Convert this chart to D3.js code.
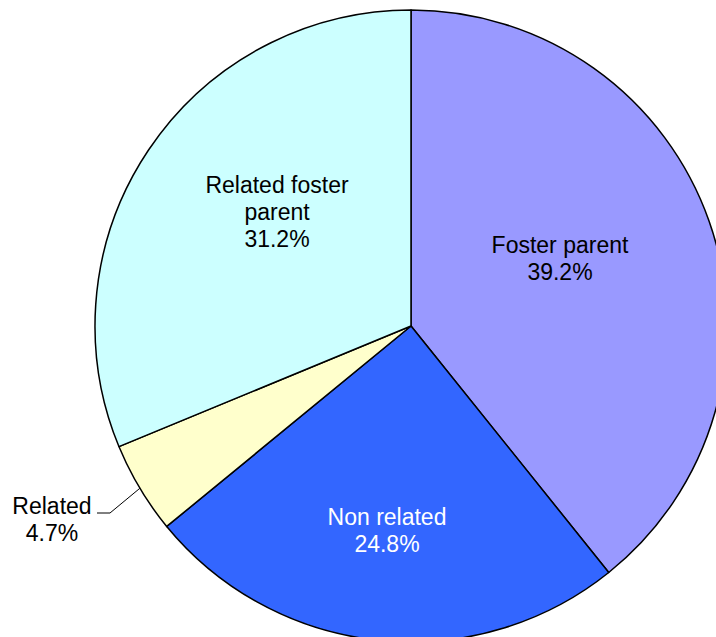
<!DOCTYPE html>
<html>
<head>
<meta charset="utf-8">
<script src="https://cdn.jsdelivr.net/npm/d3@7"></script>
<style>
  body { margin: 0; background: #fff; }
  svg { display: block; }
</style>
</head>
<body>
<svg id="chart"></svg>
<script>
// data
var categories = ["Foster parent", "Non related", "Related", "Related foster parent"];
var values = [39.2, 24.8, 4.7, 31.2];
var colors = ["#9999ff", "#3366ff", "#ffffcc", "#ccffff"];
var textColors = ["#000", "#fff", "#000", "#000"];
var labelLines = [["Foster parent"], ["Non related"], ["Related"], ["Related foster", "parent"]];

var width = 716, height = 637;
var cx = 411, cy = 326, radius = 316;

var svg = d3.select("#chart")
    .attr("width", width)
    .attr("height", height);

var slices = categories.map(function(c, i) {
    return { name: c, value: values[i], color: colors[i], text: textColors[i], lines: labelLines[i] };
});

var pie = d3.pie()
    .sort(null)
    .value(function(d) { return d.value; });

var arc = d3.arc().innerRadius(0).outerRadius(radius);

var g = svg.append("g").attr("transform", "translate(" + cx + "," + cy + ")");

var arcs = pie(slices);

g.selectAll("path")
    .data(arcs)
    .enter().append("path")
    .attr("d", arc)
    .attr("fill", function(d) { return d.data.color; })
    .attr("stroke", "#000")
    .attr("stroke-width", 1.5)
    .attr("stroke-linejoin", "round");

// label anchor points (relative to centre), placed like the original
var labelAt = [[149, -73], [-24, 199], [-359, 188], [-134, -133]];
var lineH = 27;

arcs.forEach(function(d, i) {
    var lines = d.data.lines.concat([d.data.value.toFixed(1) + "%"]);
    var t = g.append("text")
        .attr("x", labelAt[i][0])
        .attr("y", labelAt[i][1])
        .attr("text-anchor", "middle")
        .attr("fill", d.data.text)
        .style("font-family", "'Liberation Sans', Arial, sans-serif")
        .style("font-size", "23px");
    lines.forEach(function(l, j) {
        t.append("tspan")
            .attr("x", labelAt[i][0])
            .attr("dy", j == 0 ? 0 : lineH)
            .text(l);
    });
});

// leader line for the small slice
var small = arcs[2];
var mid = (small.startAngle + small.endAngle) / 2;
var edge = [radius * Math.sin(mid), -radius * Math.cos(mid)];
g.append("polyline")
    .attr("points", [edge, [110 - cx, 513 - cy], [97 - cx, 513 - cy]].map(function(p) { return p.join(","); }).join(" "))
    .attr("fill", "none")
    .attr("stroke", "#000")
    .attr("stroke-width", 1);
</script>
</body>
</html>
